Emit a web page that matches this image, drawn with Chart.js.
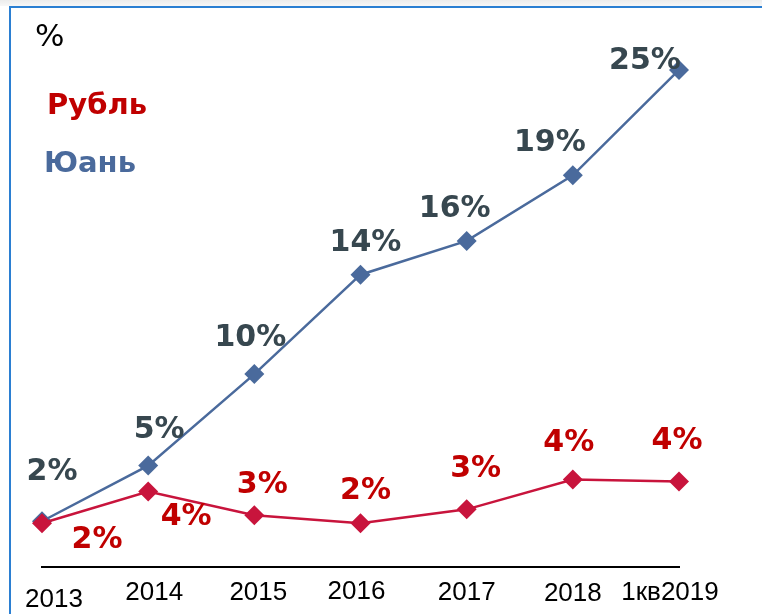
<!DOCTYPE html>
<html>
<head>
<meta charset="utf-8">
<script src="https://cdn.jsdelivr.net/npm/chart.js@4/dist/chart.umd.min.js"></script>
<style>
  html, body { margin: 0; padding: 0; background: #fff; }
  #wrap { position: relative; width: 762px; height: 614px; overflow: hidden; }
  #shade { position: absolute; left: 0; top: 0; width: 762px; height: 6px; background: linear-gradient(#ececec, #f7f7f7); }
  #frame { position: absolute; left: 9px; top: 6px; width: 760px; height: 620px;
           border-left: 2px solid #2b7fd2; border-top: 2px solid #2b7fd2; }
  canvas { position: absolute; left: 0; top: 0; }
</style>
</head>
<body>
<div id="wrap">
  <div id="shade"></div>
  <div id="frame"></div>
  <canvas id="chart" width="762" height="614"></canvas>
</div>
<script>
// categories
var aYears = ['2013', '2014', '2015', '2016', '2017', '2018', '1кв2019'];

// share of payments, %
var aRuble = [2.2, 3.8, 2.6, 2.2, 2.9, 4.4, 4.3];
var aYuan = [2.3, 5.1, 9.7, 14.7, 16.4, 19.7, 25.0];

// labels printed next to the points
var aRubleLabels = ['2%', '4%', '3%', '2%', '3%', '4%', '4%'];
var aYuanLabels = ['2%', '5%', '10%', '14%', '16%', '19%', '25%'];

var sRed = '#c8143c';
var sRedText = '#c00000';
var sBlue = '#4a6a9c';
var sBlueText = '#37474f';

// shift of each year label from its category position
var aYearShift = [[12, 33], [6, 26], [4, 26], [-4, 25], [0, 26], [0, 27], [-9, 26]];

// text next to each point, shifted from the marker
var oPointLabels = {
    id: 'pointLabels',
    afterDatasetsDraw: function (chart) {
        var ctx = chart.ctx;
        ctx.save();
        ctx.font = 'bold 30px "DejaVu Sans"';
        ctx.textAlign = 'center';
        ctx.textBaseline = 'middle';
        chart.data.datasets.forEach(function (ds, i) {
            var meta = chart.getDatasetMeta(i);
            ctx.fillStyle = ds.labelColor;
            meta.data.forEach(function (pt, j) {
                var d = ds.labelShift[j];
                ctx.fillText(ds.pointText[j], pt.x + d[0], pt.y + d[1]);
            });
        });
        ctx.restore();
    }
};

// year labels under the axis, placed from the x scale
var oYearLabels = {
    id: 'yearLabels',
    afterDraw: function (chart) {
        var ctx = chart.ctx;
        var oX = chart.scales.x;
        ctx.save();
        ctx.font = '26px "Liberation Sans"';
        ctx.fillStyle = '#000';
        ctx.textAlign = 'center';
        ctx.textBaseline = 'middle';
        chart.data.labels.forEach(function (sLabel, i) {
            var d = aYearShift[i];
            ctx.fillText(sLabel, oX.getPixelForValue(i) + d[0], oX.bottom + d[1]);
        });
        ctx.restore();
    }
};

// "%" mark and the series names in the upper left
var oCaptions = {
    id: 'captions',
    afterDraw: function (chart) {
        var ctx = chart.ctx;
        ctx.save();
        ctx.textAlign = 'left';
        ctx.textBaseline = 'alphabetic';
        ctx.fillStyle = '#000';
        ctx.font = '31px "DejaVu Sans"';
        ctx.fillText('%', 35, 46);
        ctx.font = 'bold 29px "DejaVu Sans"';
        ctx.fillStyle = sRedText;
        ctx.fillText('Рубль', 47, 114);
        ctx.fillStyle = sBlue;
        ctx.fillText('Юань', 44, 172);
        ctx.restore();
    }
};

new Chart(document.getElementById('chart'), {
    type: 'line',
    data: {
        labels: aYears,
        datasets: [
            {
                label: 'Рубль',
                data: aRuble,
                pointText: aRubleLabels,
                labelColor: sRedText,
                labelShift: [[55, 17], [38, 26], [8, -30], [5, -32], [9, -40], [-4, -36], [-2, -40]],
                borderColor: sRed,
                backgroundColor: sRed,
                borderWidth: 2.5,
                pointStyle: 'rectRot',
                pointRadius: 10,
                pointBorderWidth: 0,
                tension: 0
            },
            {
                label: 'Юань',
                data: aYuan,
                pointText: aYuanLabels,
                labelColor: sBlueText,
                labelShift: [[10, -49], [11, -35], [-4, -36], [5, -31], [-12, -32], [-23, -32], [-34, -9]],
                borderColor: sBlue,
                backgroundColor: sBlue,
                borderWidth: 2.5,
                pointStyle: 'rectRot',
                pointRadius: 10,
                pointBorderWidth: 0,
                tension: 0
            }
        ]
    },
    options: {
        responsive: false,
        animation: false,
        layout: { padding: { left: 42, right: 83, top: 50, bottom: 47 } },
        plugins: {
            legend: { display: false },
            tooltip: { enabled: false }
        },
        scales: {
            x: {
                offset: false,
                grid: { display: false, drawTicks: false },
                border: { display: true, color: '#000', width: 2 },
                ticks: { display: false }
            },
            y: {
                display: false,
                min: 0,
                max: 26
            }
        }
    },
    plugins: [oPointLabels, oYearLabels, oCaptions]
});
</script>
</body>
</html>
